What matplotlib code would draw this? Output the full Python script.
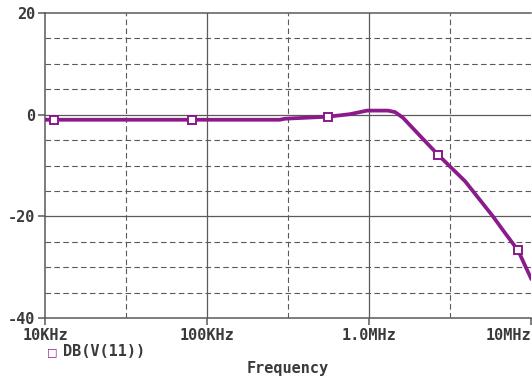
import matplotlib
matplotlib.use("Agg")
import matplotlib.pyplot as plt

# data
freq_hz = [10e3, 11.4e3, 80.7e3, 282e3, 302e3, 558e3, 764e3, 973e3, 1.31e6, 1.45e6,
           1.62e6, 2.07e6, 2.67e6, 3.92e6, 5.82e6, 6.92e6, 8.32e6, 10e6]
db_v11 = [-1.0, -1.0, -1.0, -1.0, -0.8, -0.4, 0.1, 0.8, 0.8, 0.5,
          -0.6, -4.2, -7.9, -13.1, -20.0, -23.3, -26.7, -32.2]
marker_idx = [1, 2, 5, 12, 16]

x_ticks = [1e4, 1e5, 1e6, 1e7]
x_labels = ["10KHz", "100KHz", "1.0MHz", "10MHz"]
x_minor = [10**4.5, 10**5.5, 10**6.5]
y_ticks = [20, 0, -20, -40]
y_labels = ["20", "0", "-20", "-40"]
y_minor = [15, 10, 5, -5, -10, -15, -25, -30, -35]

series_label = "DB(V(11))"
xlabel = "Frequency"

purple = "#8B1A8B"
txt = "#3a3a3a"
grid_c = "#5a5a5a"
font = dict(family="DejaVu Sans Mono", weight="bold", size=11, color=txt)

W, H = 532, 379
fig = plt.figure(figsize=(W / 100, H / 100), dpi=100)
fig.patch.set_facecolor("white")
ax = fig.add_axes([45 / W, (H - 318) / H, (531 - 45) / W, (318 - 13) / H])
ax.set_xscale("log")
ax.set_xlim(1e4, 1e7)
ax.set_ylim(-40, 20)

for v in x_ticks[1:-1]:
    ax.axvline(v, color=grid_c, lw=0.9, zorder=1)
for v in x_minor:
    ax.axvline(v, color=grid_c, lw=0.8, ls=(0, (5, 3)), zorder=1)
for v in [0, -20]:
    ax.axhline(v, color=grid_c, lw=0.9, zorder=1)
for v in y_minor:
    ax.axhline(v, color=grid_c, lw=0.8, ls=(0, (5, 3)), zorder=1)

ax.plot(freq_hz, db_v11, color=purple, lw=2.7, zorder=3, marker="s",
        markevery=marker_idx, markersize=5.5, mfc="white", mec=purple, mew=1.4,
        solid_joinstyle="round")

for s in ["left", "bottom", "top"]:
    ax.spines[s].set_color(grid_c)
    ax.spines[s].set_linewidth(1.1)
ax.spines["right"].set_visible(False)

ax.set_xticks(x_ticks)
ax.set_xticklabels(x_labels, fontdict=font)
ax.set_xticks([], minor=True)
ax.set_yticks(y_ticks)
ax.set_yticklabels(y_labels, fontdict=font)
ax.tick_params(axis="both", direction="out", length=5, width=1.1, color=grid_c, pad=2)
labs = ax.get_xticklabels()
labs[-1].set_horizontalalignment("right")

# legend
fig.text(52 / W, 1 - 352 / H, "\u25a1", ha="center", va="center",
         family="DejaVu Sans", size=8, color=purple, weight="bold")
fig.text(63 / W, 1 - 352 / H, series_label, ha="left", va="center", **font)
fig.text(288 / W, 1 - 368 / H, xlabel, ha="center", va="center", **font)

fig.savefig("out.png", dpi=100, facecolor="white")
